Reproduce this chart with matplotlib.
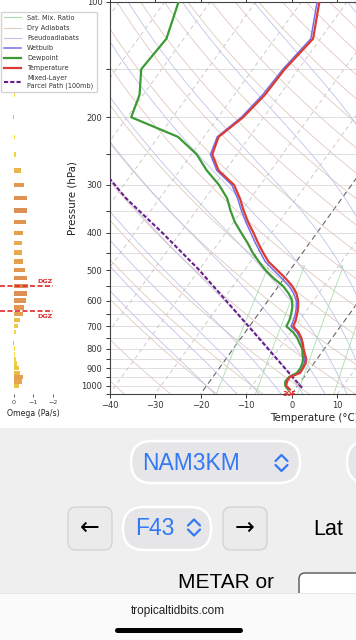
import numpy as np
import matplotlib
matplotlib.use('Agg')
import matplotlib.pyplot as plt
from matplotlib.lines import Line2D
from matplotlib.patches import FancyBboxPatch, Rectangle
from matplotlib.colors import LinearSegmentedColormap, Normalize

# ---- sounding values (NAM3KM F43) ----
pres = [100, 125, 150, 175, 200, 225, 250, 275, 300, 325, 350, 375, 400,
        425, 450, 475, 500, 525, 550, 575, 600, 625, 650, 675, 700, 725,
        750, 775, 800, 825, 850, 875, 900, 925, 950, 975, 1000, 1022]
temp = [-56.1, -51.6, -53.0, -53.3, -54.5, -56.8, -55.4, -51.5, -45.8, -42.4,
        -39.6, -36.8, -33.9, -31.3, -28.7, -26.1, -22.8, -19.7, -17.0, -14.9,
        -13.4, -12.3, -11.5, -10.8, -10.4, -8.3, -6.8, -5.6, -4.6, -3.5,
        -2.4, -1.8, -1.6, -1.5, -3.1, -3.0, -2.5, -1.1]
dwpt = [-87.0, -83.8, -84.5, -80.8, -79.1, -65.7, -58.8, -54.1, -49.1, -45.2,
        -42.5, -39.7, -36.6, -33.6, -31.0, -28.2, -25.4, -22.3, -19.0, -16.6,
        -14.7, -13.6, -12.8, -12.2, -11.9, -9.5, -7.7, -6.3, -4.9, -4.0,
        -3.1, -2.5, -2.2, -2.2, -3.3, -3.4, -2.7, -1.5]
wetb = [-56.6, -52.1, -53.4, -53.8, -54.9, -57.1, -55.8, -51.9, -46.3, -42.9,
        -40.1, -37.3, -34.5, -31.9, -29.3, -26.8, -23.6, -20.5, -17.7, -15.5,
        -13.8, -12.7, -11.9, -11.3, -10.9, -8.7, -7.1, -5.8, -4.7, -3.7,
        -2.7, -2.1, -1.8, -1.7, -3.2, -3.1, -2.6, -1.3]

parcel_p = [1012, 850, 700, 500, 400, 325, 280]
parcel_t = [1.3, -8.9, -20.2, -39.9, -53.9, -67.4, -75.9]

omega_p = [175, 200, 225, 250, 275, 300, 325, 350, 375, 400, 425, 450, 475,
           500, 525, 550, 575, 600, 625, 650, 675, 700, 725, 750, 775, 800,
           825, 850, 875, 900, 925, 950, 975, 1000]
omega = [-0.06, 0.03, -0.04, -0.13, -0.34, -0.54, -0.65, -0.68, -0.61, -0.47,
         -0.40, -0.41, -0.47, -0.57, -0.65, -0.72, -0.68, -0.61, -0.54, -0.47,
         -0.30, -0.20, -0.10, -0.01, 0.03, -0.05, -0.08, -0.13, -0.17, -0.25,
         -0.30, -0.47, -0.44, -0.27]

dgz_top = 550
dgz_bot = 640

mix_ratios = [1, 2, 4, 7, 10, 16, 24, 32]

# ---- colours ----
C_MIX = '#acdcac'
C_DRY = '#e0c9bf'
C_MOIST = '#c2c2e8'
C_WB = '#7272ea'
C_TD = '#3c9a35'
C_T = '#dc3a34'
C_PARCEL = '#6a1b8c'
BLUE = '#3478f6'

P_BOT, P_TOP = 1050, 100
SKEW = 60.9   # degC shift per decade of pressure
X_VISIBLE = 13.5   # right edge of the screenshot in skewed degC


def skew(t, p):
    return np.asarray(t, float) + SKEW * np.log10(P_BOT / np.asarray(p, float))


W, H = 356, 640
fig = plt.figure(figsize=(W / 100, H / 100), dpi=100)
fig.patch.set_facecolor('white')


def fx(px):
    return px / W


def fy(py):
    return 1 - py / H


# ---- skew-T axes ----
ax = fig.add_axes([fx(109.5), fy(394), 410 / W, (394 - 1.5) / H])
ax.set_yscale('log')
ax.set_ylim(P_BOT, P_TOP)
ax.set_xlim(-40, 50)

pp = np.logspace(np.log10(P_TOP), np.log10(P_BOT), 120)

for p in range(100, 1051, 50):
    ax.axhline(p, color='#dedede', lw=0.7, zorder=1)

for t0 in range(-110, 51, 10):
    if t0 in (-20, 0):
        ax.plot(skew(t0, pp), pp, color='#666666', lw=0.8, ls=(0, (5, 3)), zorder=2)
    else:
        ax.plot(skew(t0, pp), pp, color='#c4c4c4', lw=0.6, ls=(0, (5, 4)), zorder=2)

for th in np.arange(-40, 201, 10):
    t = (th + 273.15) * (pp / 1000.0) ** 0.2857 - 273.15
    ax.plot(skew(t, pp), pp, color=C_DRY, lw=0.6, zorder=2)


def dtdp(t, p):
    tk = t + 273.15
    es = 6.112 * np.exp(17.67 * t / (t + 243.5))
    rs = 0.622 * es / (p - es)
    lv = 2.501e6
    return (287.04 * tk + lv * rs) / (p * (1005.7 + lv * lv * rs * 0.622 / (287.04 * tk * tk)))


for t0 in np.arange(-20, 40.1, 5):
    ps = [1000.0]
    ts = [t0]
    p, t = 1000.0, t0
    while p > P_TOP:
        t = t - dtdp(t, p) * 5.0
        p -= 5.0
        ps.append(p)
        ts.append(t)
    p, t = 1000.0, t0
    while p < P_BOT:
        t = t + dtdp(t, p) * 5.0
        p += 5.0
        ps.insert(0, p)
        ts.insert(0, t)
    ax.plot(skew(ts, ps), ps, color=C_MOIST, lw=0.6, zorder=2)

pm = np.linspace(P_BOT, 500, 40)
for w in mix_ratios:
    e = w / 1000.0 * pm / (0.622 + w / 1000.0)
    lne = np.log(e / 6.112)
    td = 243.5 * lne / (17.67 - lne)
    ax.plot(skew(td, pm), pm, color=C_MIX, lw=0.6, zorder=2)
    xl = skew(td[-1], 500)
    if xl < X_VISIBLE:
        ax.text(xl, 500, f'{w:g}', fontsize=4, color='#8fcf8f',
                ha='center', va='bottom', zorder=3)

ax.plot(skew(wetb, pres), pres, color=C_WB, lw=1.1, zorder=5)
ax.plot(skew(dwpt, pres), pres, color=C_TD, lw=1.6, zorder=6)
ax.plot(skew(temp, pres), pres, color=C_T, lw=1.6, zorder=7)
ax.plot(skew(parcel_t, parcel_p), parcel_p, color=C_PARCEL, lw=1.5,
        ls=(0, (2, 1)), zorder=6)

t_sfc_f = temp[-1] * 9 / 5 + 32
ax.text(skew(temp[-1], P_BOT) + 0.6, P_BOT, f'{t_sfc_f:.0f}F', color='#e0302a',
        fontsize=4.8, fontweight='bold', ha='center', va='center', zorder=9)

ax.set_yticks(range(100, 1001, 100), [str(v) for v in range(100, 1001, 100)])
ax.set_yticks(range(150, 1051, 100), minor=True)
ax.yaxis.set_minor_formatter(plt.NullFormatter())
ax.set_xticks(range(-40, 11, 10))
ax.tick_params(axis='both', which='both', labelsize=6, colors='#333333',
               length=3, width=0.7, pad=2)
ax.tick_params(axis='x', top=True, direction='out')
ax.set_ylabel('Pressure (hPa)', fontsize=7.4, color='#222222', labelpad=3)
ax.set_xlabel('Temperature (°C)', fontsize=7.4, color='#222222', labelpad=2)
for s in ax.spines.values():
    s.set_color('#444444')
    s.set_linewidth(0.8)

# ---- omega panel ----
axo = fig.add_axes([0, fy(394), fx(66), (394 - 1.5) / H])
axo.set_facecolor('none')
axo.set_yscale('log')
axo.set_ylim(P_BOT, P_TOP)
axo.set_xlim(0.72, -2.69)
omega_cmap = LinearSegmentedColormap.from_list(
    'omg', ['#f7e43a', '#eec447', '#e49b50', '#dd8a55'])
onorm = Normalize(0, 0.75)
cols = [omega_cmap(onorm(-w)) if w < 0 else '#b8b8b8' for w in omega]
axo.barh(omega_p, omega, height=np.array(omega_p) * 0.026, color=cols, zorder=2)
for p, va in ((dgz_top, 'bottom'), (dgz_bot, 'top')):
    axo.axhline(p, xmin=0, xmax=0.8, color='#e02828', lw=1.2, ls=(0, (3, 1.5)), zorder=3)
    axo.text(-1.6, p * (0.985 if va == 'bottom' else 1.015), 'DGZ', color='#e02828',
             fontsize=4.6, fontweight='bold', ha='center', va=va, zorder=3)
axo.yaxis.set_visible(False)
for s in axo.spines.values():
    s.set_visible(False)
axo.set_xticks([0, -1, -2], ['0', '\u22121', '\u22122'])
axo.tick_params(axis='x', labelsize=4.6, colors='#444444', length=2.5, width=0.6, pad=2)
axo.set_xlabel('Omega (Pa/s)', fontsize=5.6, color='#222222', labelpad=2.5)

# ---- legend ----
handles = [
    Line2D([], [], color=C_MIX, lw=0.8, label='Sat. Mix. Ratio'),
    Line2D([], [], color=C_DRY, lw=0.8, label='Dry Adiabats'),
    Line2D([], [], color=C_MOIST, lw=0.8, label='Pseudoadiabats'),
    Line2D([], [], color=C_WB, lw=1.1, label='Wetbulb'),
    Line2D([], [], color=C_TD, lw=1.6, label='Dewpoint'),
    Line2D([], [], color=C_T, lw=1.6, label='Temperature'),
    Line2D([], [], color=C_PARCEL, lw=1.5, ls=(0, (2, 1)),
           label='Mixed-Layer\nParcel Path (100mb)'),
]
leg = fig.legend(handles=handles, loc='upper left', bbox_to_anchor=(fx(0.5), fy(11.5)),
                 borderaxespad=0, fontsize=4.7, labelspacing=0.62, handlelength=2.7,
                 handletextpad=0.9, borderpad=0.5, framealpha=0.85,
                 edgecolor='#cccccc', fancybox=True)
for txt in leg.get_texts():
    txt.set_color('#333333')

# ---- page UI below the chart ----
ui = fig.add_axes([0, 0, 1, 1], zorder=10)
ui.set_xlim(0, W)
ui.set_ylim(H, 0)
ui.axis('off')
ui.set_facecolor('none')

ui.add_patch(Rectangle((0, 428), W, 165, fc='#efeff0', ec='none'))


def pill(x, y, w, h, r, fc, ec, lw=1.4):
    ui.add_patch(FancyBboxPatch((x, y), w, h, boxstyle=f'round,pad=0,rounding_size={r}',
                                fc=fc, ec=ec, lw=lw))


def chevron(cx, cy):
    ui.plot([cx - 6, cx, cx + 6], [cy - 2, cy - 8, cy - 2], color=BLUE, lw=1.6,
            solid_capstyle='round', solid_joinstyle='round')
    ui.plot([cx - 6, cx, cx + 6], [cy + 2, cy + 8, cy + 2], color=BLUE, lw=1.6,
            solid_capstyle='round', solid_joinstyle='round')


pill(131, 441, 169, 42, 21, '#e6e6e9', 'white', 1.8)
ui.text(191.5, 470, 'NAM3KM', color=BLUE, fontsize=16.5, family='Liberation Sans',
        ha='center', va='baseline')
chevron(281.5, 463)
pill(347, 441, 60, 42, 21, '#e6e6e9', 'white', 1.8)

pill(68, 507, 44, 43, 8, '#ebebeb', '#d4d4d4', 1.0)
ui.text(90, 528, '\u2190', color='black', fontsize=17, family='DejaVu Sans',
        ha='center', va='center')
pill(123, 507, 88, 43, 21, '#e6e6e9', 'white', 1.8)
ui.text(155, 535, 'F43', color=BLUE, fontsize=16.5, family='Liberation Sans',
        ha='center', va='baseline')
chevron(194, 527.5)
pill(223, 507, 44, 43, 8, '#ebebeb', '#d4d4d4', 1.0)
ui.text(245, 528, '\u2192', color='black', fontsize=17, family='DejaVu Sans',
        ha='center', va='center')
ui.text(313, 535, 'Lat', color='black', fontsize=15.5, family='Liberation Sans',
        ha='left', va='baseline')

ui.text(226.5, 588.5, 'METAR or', color='black', fontsize=15, family='Liberation Sans',
        ha='center', va='baseline')
pill(299, 573, 90, 60, 6, 'white', '#555555', 1.0)

ui.add_patch(Rectangle((0, 593), W, 47, fc='#fafafa', ec='none'))
ui.plot([0, W], [593, 593], color='#e4e4e4', lw=0.6)
ui.text(178, 614, 'tropicaltidbits.com', color='#222222', fontsize=8.5,
        family='Liberation Sans', ha='center', va='baseline')
ui.plot([117, 240], [630, 630], color='black', lw=3.6, solid_capstyle='round')

fig.savefig('out.png', dpi=100)
